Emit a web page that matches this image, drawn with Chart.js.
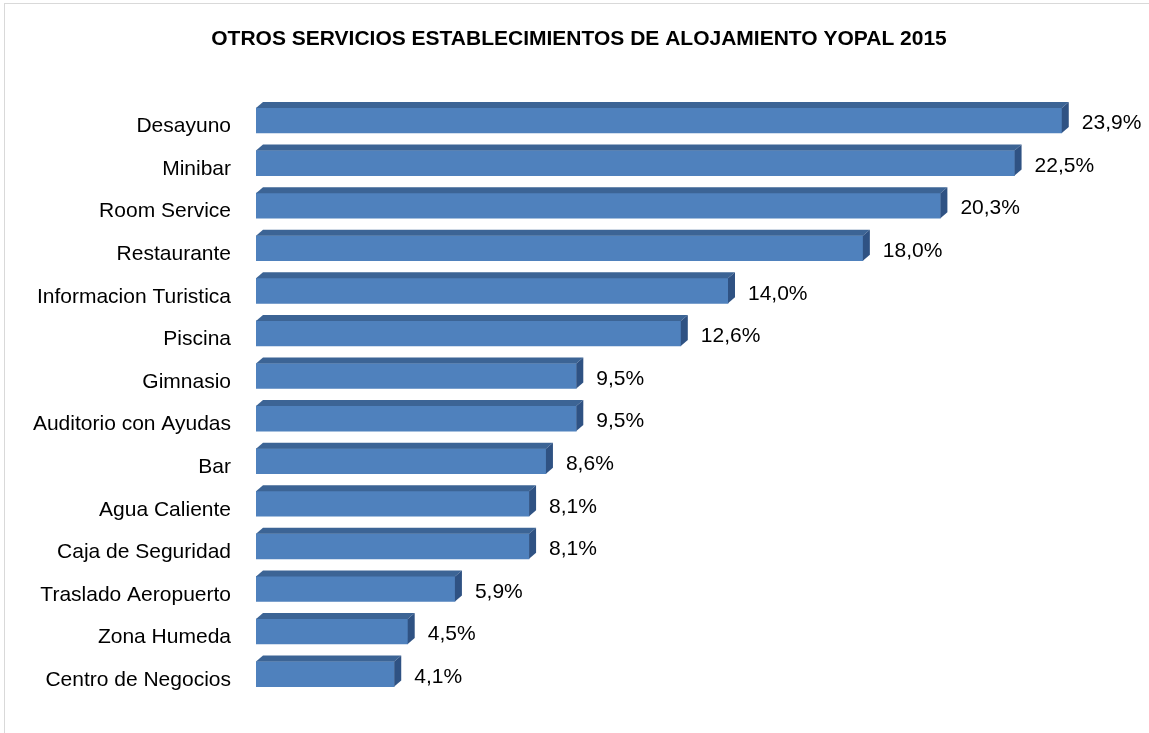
<!DOCTYPE html>
<html>
<head>
<meta charset="utf-8">
<script src="https://cdn.jsdelivr.net/npm/chart.js@4.4.0/dist/chart.umd.min.js"></script>
<style>
  html, body { margin: 0; padding: 0; background: #fff; overflow: hidden; }
  #marco { position: absolute; left: 4px; top: 3px; width: 1300px; height: 900px; border: 1px solid #d9d9d9; }
  #contenedor { position: absolute; left: 0; top: 0; width: 1149px; height: 733px; }
</style>
</head>
<body>
<div id="marco"></div>
<div id="contenedor"><canvas id="grafico" width="1149" height="733"></canvas></div>
<script>
// Datos
const titulo = 'OTROS SERVICIOS ESTABLECIMIENTOS DE ALOJAMIENTO YOPAL 2015';
const servicios = [
  'Desayuno', 'Minibar', 'Room Service', 'Restaurante', 'Informacion Turistica',
  'Piscina', 'Gimnasio', 'Auditorio con Ayudas', 'Bar', 'Agua Caliente',
  'Caja de Seguridad', 'Traslado Aeropuerto', 'Zona Humeda', 'Centro de Negocios'
];
const porcentajes = [23.9, 22.5, 20.3, 18.0, 14.0, 12.6, 9.5, 9.5, 8.6, 8.1, 8.1, 5.9, 4.5, 4.1];

// Estilo
const colorFrente = '#4f81bd';
const colorArriba = '#3c6495';
const colorLado = '#2f5283';
const profX = 7, profY = 6;
const fuente = 'Arial, "Liberation Sans", sans-serif';

// Caras superior y lateral para el efecto 3D, y etiquetas de valor
const barras3D = {
  id: 'barras3D',
  afterDatasetsDraw(chart) {
    const ctx = chart.ctx;
    const meta = chart.getDatasetMeta(0);
    ctx.save();
    meta.data.forEach((bar, i) => {
      const x0 = bar.base, x1 = bar.x;
      const yTop = bar.y - bar.height / 2;
      const yBot = bar.y + bar.height / 2;
      // cara superior
      ctx.fillStyle = colorArriba;
      ctx.beginPath();
      ctx.moveTo(x0, yTop);
      ctx.lineTo(x0 + profX, yTop - profY);
      ctx.lineTo(x1 + profX, yTop - profY);
      ctx.lineTo(x1, yTop);
      ctx.closePath();
      ctx.fill();
      // cara lateral
      ctx.fillStyle = colorLado;
      ctx.beginPath();
      ctx.moveTo(x1, yTop);
      ctx.lineTo(x1 + profX, yTop - profY);
      ctx.lineTo(x1 + profX, yBot - profY);
      ctx.lineTo(x1, yBot);
      ctx.closePath();
      ctx.fill();
      // etiqueta
      ctx.fillStyle = '#000';
      ctx.font = '21px ' + fuente;
      ctx.textAlign = 'left';
      ctx.textBaseline = 'middle';
      ctx.fillText(porcentajes[i].toFixed(1).replace('.', ',') + '%', x1 + 20, bar.y + 3);
    });
    ctx.restore();
  }
};

new Chart(document.getElementById('grafico'), {
  type: 'bar',
  data: {
    labels: servicios,
    datasets: [{
      data: porcentajes,
      backgroundColor: colorFrente,
      borderWidth: 0,
      barThickness: 25
    }]
  },
  options: {
    indexAxis: 'y',
    responsive: false,
    animation: false,
    events: [],
    layout: { padding: { left: 17, right: 8, top: 0, bottom: 34 } },
    plugins: {
      legend: { display: false },
      tooltip: { enabled: false },
      title: {
        display: true,
        text: titulo,
        color: '#000',
        font: { family: fuente, size: 21, weight: 'bold' },
        padding: { top: 27, bottom: 47 }
      }
    },
    scales: {
      x: {
        display: false,
        min: 0,
        max: 26.25
      },
      y: {
        grid: { display: false, drawTicks: false },
        border: { display: false },
        afterFit(scale) { scale.width = 239; },
        ticks: {
          color: '#000',
          padding: 25,
          labelOffset: 6,
          font: { family: fuente, size: 21 }
        }
      }
    }
  },
  plugins: [barras3D]
});
</script>
</body>
</html>
